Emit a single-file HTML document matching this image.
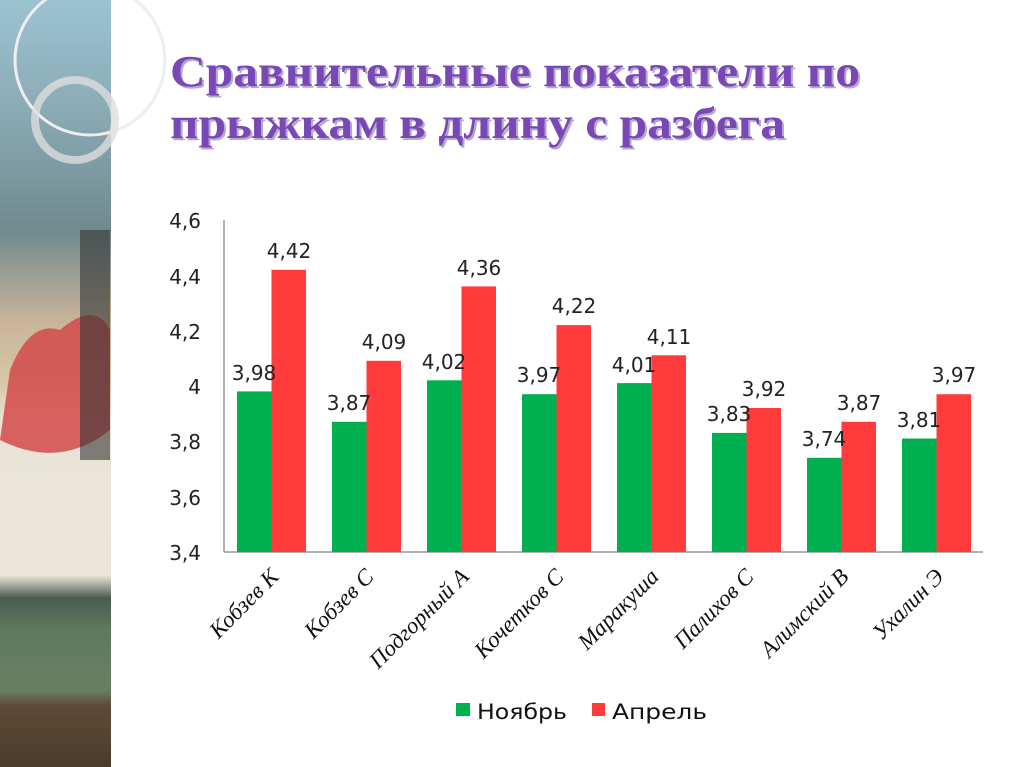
<!DOCTYPE html>
<html><head><meta charset="utf-8"><style>
html,body{margin:0;padding:0;background:#fff;width:1024px;height:767px;overflow:hidden}
</style></head><body>
<svg width="1024" height="767" xmlns="http://www.w3.org/2000/svg">
<defs>
<linearGradient id="ph" x1="0" y1="0" x2="0" y2="1">
<stop offset="0" stop-color="#9cc3d2"/>
<stop offset="0.15" stop-color="#8aa9b4"/>
<stop offset="0.3" stop-color="#6f8a8e"/>
<stop offset="0.42" stop-color="#c9b49a"/>
<stop offset="0.5" stop-color="#d8c7a8"/>
<stop offset="0.55" stop-color="#eae3d6"/>
<stop offset="0.75" stop-color="#ece6da"/>
<stop offset="0.78" stop-color="#4a5a50"/>
<stop offset="0.82" stop-color="#5d7a5e"/>
<stop offset="0.9" stop-color="#6a7f62"/>
<stop offset="0.92" stop-color="#5e4b37"/>
<stop offset="1" stop-color="#4b3b2b"/>
</linearGradient>
</defs>
<rect x="0" y="0" width="111" height="767" fill="url(#ph)"/>
<path d="M10 370 Q30 320 60 330 Q95 300 110 330 L110 430 Q60 470 0 440 Z" fill="#d44a4a" opacity="0.85"/>
<rect x="80" y="230" width="30" height="230" fill="#333" opacity="0.6"/>
<circle cx="90" cy="60" r="75" fill="none" stroke="#eee" stroke-width="3"/>
<circle cx="75" cy="120" r="40" fill="none" stroke="#ddd" stroke-width="8" opacity="0.8"/>
<g font-family="Liberation Serif,serif" font-weight="bold" font-size="44">
<text x="172" y="88" textLength="690" lengthAdjust="spacingAndGlyphs" fill="#b7a6d3">Сравнительные показатели по</text>
<text x="170" y="86" textLength="690" lengthAdjust="spacingAndGlyphs" fill="#7a48b4">Сравнительные показатели по</text>
<text x="172" y="140" textLength="615" lengthAdjust="spacingAndGlyphs" fill="#b7a6d3">прыжкам в длину с разбега</text>
<text x="170" y="138" textLength="615" lengthAdjust="spacingAndGlyphs" fill="#7a48b4">прыжкам в длину с разбега</text>
</g>
<g font-family="DejaVu Sans,Liberation Sans,sans-serif" font-size="20" fill="#222" text-anchor="end">
<text x="201" y="228">4,6</text><text x="201" y="284">4,4</text><text x="201" y="339">4,2</text>
<text x="201" y="394">4</text><text x="201" y="449">3,8</text><text x="201" y="505">3,6</text><text x="201" y="560">3,4</text>
</g>
<line x1="224" y1="220" x2="224" y2="552" stroke="#999" stroke-width="1.5"/>
<line x1="224" y1="552" x2="983" y2="552" stroke="#999" stroke-width="1.5"/>
<g font-family="DejaVu Sans,Liberation Sans,sans-serif" font-size="20" fill="#222" text-anchor="middle">
<rect x="237" y="391.4" width="34.5" height="160.6" fill="#00b050"/><rect x="271.5" y="269.8" width="34.5" height="282.2" fill="#ff3b3b"/>
<text x="254" y="380">3,98</text><text x="289" y="258">4,42</text>
<rect x="332" y="421.8" width="34.5" height="130.2" fill="#00b050"/><rect x="366.5" y="360.8" width="34.5" height="191.2" fill="#ff3b3b"/>
<text x="349" y="410">3,87</text><text x="384" y="349">4,09</text>
<rect x="427" y="380.3" width="34.5" height="171.7" fill="#00b050"/><rect x="461.5" y="286.4" width="34.5" height="265.6" fill="#ff3b3b"/>
<text x="444" y="369">4,02</text><text x="479" y="275">4,36</text>
<rect x="522" y="394.2" width="34.5" height="157.8" fill="#00b050"/><rect x="556.5" y="325.1" width="34.5" height="226.9" fill="#ff3b3b"/>
<text x="539" y="382">3,97</text><text x="574" y="313">4,22</text>
<rect x="617" y="383.1" width="34.5" height="168.9" fill="#00b050"/><rect x="651.5" y="355.3" width="34.5" height="196.7" fill="#ff3b3b"/>
<text x="634" y="372">4,01</text><text x="669" y="344">4,11</text>
<rect x="712" y="432.9" width="34.5" height="119.1" fill="#00b050"/><rect x="746.5" y="408" width="34.5" height="144" fill="#ff3b3b"/>
<text x="729" y="421">3,83</text><text x="764" y="396">3,92</text>
<rect x="807" y="457.8" width="34.5" height="94.2" fill="#00b050"/><rect x="841.5" y="421.8" width="34.5" height="130.2" fill="#ff3b3b"/>
<text x="824" y="446">3,74</text><text x="859" y="410">3,87</text>
<rect x="902" y="438.5" width="34.5" height="113.5" fill="#00b050"/><rect x="936.5" y="394.2" width="34.5" height="157.8" fill="#ff3b3b"/>
<text x="919" y="427">3,81</text><text x="954" y="382">3,97</text>
</g>
<g font-family="Liberation Serif,serif" font-style="italic" font-size="23" fill="#111" text-anchor="end">
<text transform="translate(280,578) rotate(-45)">Кобзев К</text>
<text transform="translate(375,578) rotate(-45)">Кобзев С</text>
<text transform="translate(470,578) rotate(-45)">Подгорный А</text>
<text transform="translate(565,578) rotate(-45)">Кочетков С</text>
<text transform="translate(660,578) rotate(-45)">Маракуша</text>
<text transform="translate(755,578) rotate(-45)">Палихов С</text>
<text transform="translate(850,578) rotate(-45)">Алимский В</text>
<text transform="translate(945,578) rotate(-45)">Ухалин Э</text>
</g>
<rect x="456" y="703" width="14" height="13" fill="#00b050"/>
<rect x="592" y="703" width="13" height="13" fill="#ff3b3b"/>
<g font-family="DejaVu Sans,Liberation Sans,sans-serif" font-size="21" fill="#111">
<text x="477" y="719" textLength="90" lengthAdjust="spacingAndGlyphs">Ноябрь</text><text x="612" y="719" textLength="95" lengthAdjust="spacingAndGlyphs">Апрель</text>
</g>
</svg>
</body></html>
